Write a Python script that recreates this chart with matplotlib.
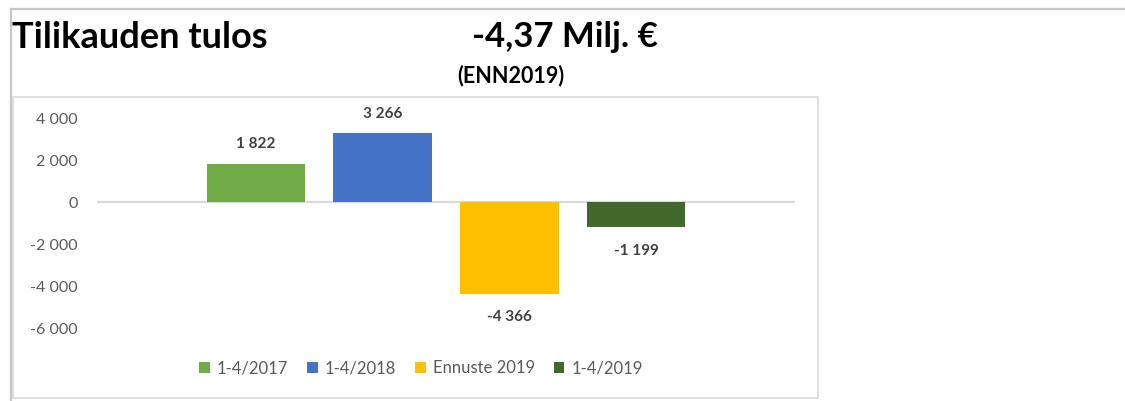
import matplotlib
matplotlib.use("Agg")
import matplotlib.pyplot as plt
from matplotlib.patches import Rectangle
from matplotlib.lines import Line2D

series = ["1-4/2017", "1-4/2018", "Ennuste 2019", "1-4/2019"]
values = [1822, 3266, -4366, -1199]
labels = ["1 822", "3 266", "-4 366", "-1 199"]
colors = ["#70AD47", "#4472C4", "#FFC000", "#43682B"]
yticks = [-6000, -4000, -2000, 0, 2000, 4000]
yticklabels = ["-6 000", "-4 000", "-2 000", "0", "2 000", "4 000"]

plt.rcParams['font.family'] = ['Lato', 'DejaVu Sans']

W, H = 1125, 401
fig = plt.figure(figsize=(W / 100, H / 100), dpi=100)

def fx(px):
    return px / W

def fy(py):
    return 1 - py / H

# outer frame lines
fig.add_artist(Line2D([fx(11), fx(1125)], [fy(8.5), fy(8.5)], color="#c8c8c8", lw=1.6))
fig.add_artist(Line2D([fx(11), fx(11)], [fy(8.5), fy(401)], color="#c8c8c8", lw=1.6))
# inner chart box
fig.add_artist(Rectangle((fx(13), fy(398)), fx(818) - fx(13), fy(97) - fy(398),
                         fill=False, edgecolor="#d9d9d9", lw=1.2))

# titles
fig.text(fx(12), fy(37), "Tilikauden tulos", fontsize=26, fontweight="bold",
         ha="left", va="center", color="black")
fig.text(fx(565), fy(37), "-4,37 Milj. \u20ac", fontsize=25, fontweight="bold",
         ha="center", va="center", color="black")
fig.text(fx(511), fy(76), "(ENN2019)", fontsize=15.5, fontweight="bold",
         ha="center", va="center", color="black")

ax = fig.add_axes([fx(97), fy(328), fx(795) - fx(97), fy(118) - fy(328)])
x = list(range(len(values)))
width = 0.78
bars = ax.bar(x, values, width=width, color=colors, label=series, zorder=3)
ax.set_ylim(-6000, 4000)
ax.set_xlim(-1.256, 4.256)
ax.axhline(0, color="#d9d9d9", lw=1.5, zorder=2)
for s in ax.spines.values():
    s.set_visible(False)
ax.set_xticks([])
ax.set_yticks(yticks)
ax.set_yticklabels(yticklabels)
ax.tick_params(axis="y", length=0, labelsize=11.5, labelcolor="#595959", pad=14)

for xi, v, lab in zip(x, values, labels):
    if v >= 0:
        ax.annotate(lab, (xi, v), xytext=(0, 14), textcoords="offset points",
                    ha="center", va="center", fontsize=11, fontweight="bold",
                    color="#404040", annotation_clip=False)
    else:
        ax.annotate(lab, (xi, v), xytext=(0, -17), textcoords="offset points",
                    ha="center", va="center", fontsize=11, fontweight="bold",
                    color="#404040", annotation_clip=False)

leg = fig.legend(handles=bars, labels=series, loc="center",
                 bbox_to_anchor=(fx(421), fy(368)), ncol=4, frameon=False,
                 fontsize=12, handlelength=0.65, handleheight=0.65,
                 handletextpad=0.45, columnspacing=1.1)
for t in leg.get_texts():
    t.set_color("#595959")

fig.savefig("out.png", dpi=100)
